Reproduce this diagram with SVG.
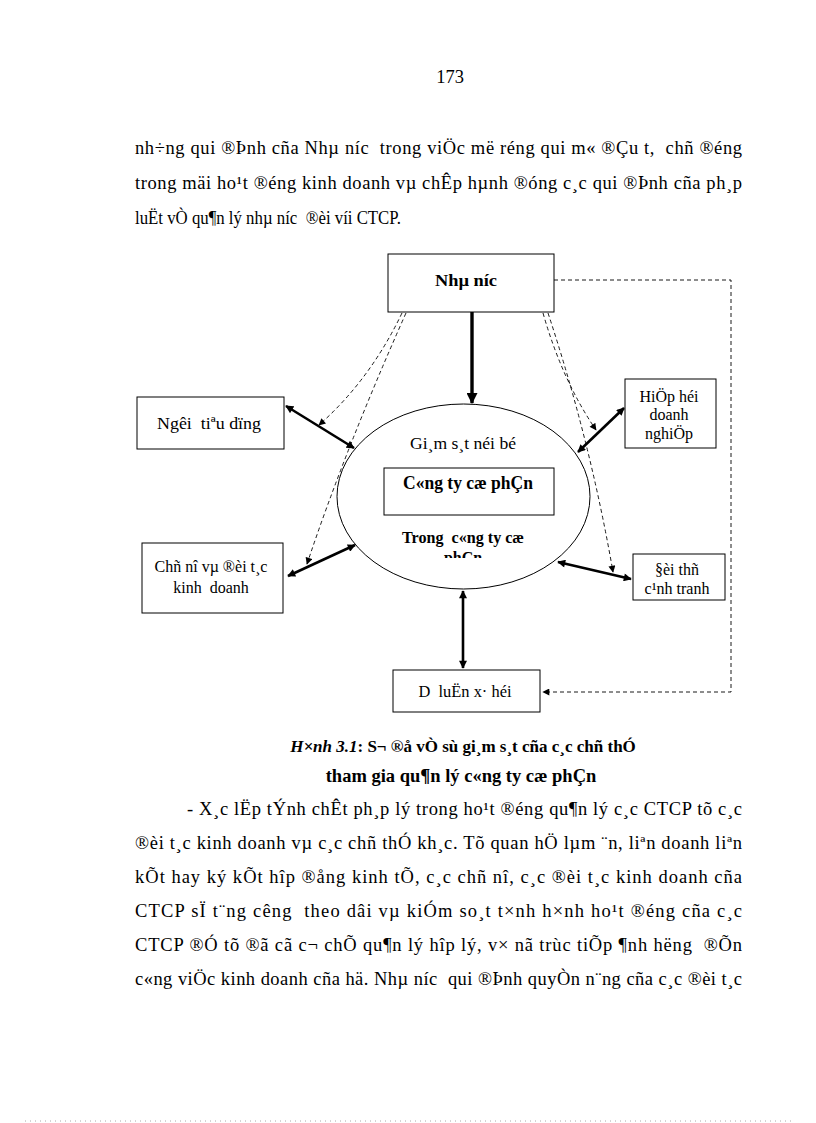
<svg xmlns="http://www.w3.org/2000/svg" width="816" height="1123" viewBox="0 0 816 1123">
<style>
text{font-family:"Liberation Serif","Times New Roman",serif;fill:#000;white-space:pre}
.body{font-size:18.5px}
.cap{font-size:17px;font-weight:bold;text-anchor:middle}
.cap2{font-size:18.5px;font-weight:bold;text-anchor:middle}
.lbl{font-size:17px;text-anchor:middle}
.sm{font-size:16px;text-anchor:middle}
.box{fill:#fff;stroke:#000;stroke-width:1}
.thick{stroke:#000;stroke-width:2.6;fill:none;marker-start:url(#ah);marker-end:url(#ah)}
.dash{stroke:#000;stroke-width:0.9;fill:none;stroke-dasharray:4 3;marker-end:url(#dh)}
</style>
<defs>
<marker id="ah" viewBox="0 0 10 10" refX="9" refY="5" markerWidth="9" markerHeight="8" markerUnits="userSpaceOnUse" orient="auto-start-reverse"><path d="M0,0 L10,5 L0,10 z" fill="#000"/></marker>
<marker id="dh" viewBox="0 0 10 10" refX="9" refY="5" markerWidth="8" markerHeight="7" markerUnits="userSpaceOnUse" orient="auto"><path d="M0,0 L10,5 L0,10 z" fill="#000"/></marker>
<marker id="bh" viewBox="0 0 10 10" refX="9" refY="5" markerWidth="12" markerHeight="11" markerUnits="userSpaceOnUse" orient="auto"><path d="M0,0 L10,5 L0,10 z" fill="#000"/></marker>
<clipPath id="clipTrong"><rect x="380" y="520" width="170" height="38"/></clipPath>
</defs>

<text x="450" y="83" class="body" text-anchor="middle">173</text>
<text x="135" y="154" class="body" textLength="607" lengthAdjust="spacing">nh÷ng qui ®Þnh cña Nhµ níc  trong viÖc më réng qui m« ®Çu t,  chñ ®éng</text>
<text x="135" y="189" class="body" textLength="607" lengthAdjust="spacing">trong mäi ho¹t ®éng kinh doanh vµ chÊp hµnh ®óng c¸c qui ®Þnh cña ph¸p</text>
<text x="135" y="224" class="body" textLength="266" lengthAdjust="spacingAndGlyphs">luËt vÒ qu¶n lý nhµ níc  ®èi víi CTCP.</text>

<g id="connectors">
<line x1="472" y1="312" x2="472" y2="403" stroke="#000" stroke-width="3.4" marker-end="url(#bh)"/>
<line class="thick" x1="286" y1="406" x2="354" y2="448"/>
<line class="thick" x1="288" y1="576" x2="355" y2="545"/>
<line class="thick" x1="578" y1="452" x2="624" y2="408"/>
<line class="thick" x1="558" y1="562" x2="631" y2="579"/>
<line class="thick" x1="463" y1="591" x2="463" y2="668"/>
<path class="dash" d="M402,313 Q370,380 319,425"/>
<path class="dash" d="M406,313 Q345,450 307,564"/>
<path class="dash" d="M543,313 Q562,380 596,430"/>
<path class="dash" d="M548,313 Q590,440 613,572"/>
<path class="dash" d="M554,280 L731,280 L731,692 L543,692"/>
</g>

<g id="ellipse">
<ellipse cx="463.5" cy="496.5" rx="126.5" ry="92.5" fill="#fff" stroke="#000" stroke-width="1"/>
<text x="463" y="449" class="lbl" textLength="106" lengthAdjust="spacingAndGlyphs">Gi¸m s¸t néi bé</text>
<text x="463" y="543" class="sm" font-weight="bold" textLength="122" lengthAdjust="spacingAndGlyphs">Trong  c«ng ty cæ</text>
<text x="463" y="563" class="sm" font-weight="bold" clip-path="url(#clipTrong)">phÇn</text>
</g>
<g id="n-congty">
<rect class="box" x="384" y="468" width="170" height="47"/>
<text x="468" y="489" class="lbl" style="font-size:18px" font-weight="bold" textLength="130" lengthAdjust="spacingAndGlyphs">C«ng ty cæ phÇn</text>
</g>
<g id="n-nhanuoc">
<rect class="box" x="388" y="254" width="166" height="58"/>
<text x="466" y="286" class="lbl" font-weight="bold" textLength="62" lengthAdjust="spacingAndGlyphs">Nhµ níc</text>
</g>
<g id="n-nguoitieudung">
<rect class="box" x="137" y="397" width="147" height="52"/>
<text x="209" y="429" class="lbl" textLength="104" lengthAdjust="spacingAndGlyphs">Ngêi  tiªu dïng</text>
</g>
<g id="n-hiephoi">
<rect class="box" x="625" y="379" width="91" height="69"/>
<text x="669" y="402" class="sm">HiÖp héi</text>
<text x="669" y="420" class="sm">doanh</text>
<text x="669" y="439" class="sm">nghiÖp</text>
</g>
<g id="n-chuno">
<rect class="box" x="142" y="543" width="141" height="70"/>
<text x="211" y="572" class="sm">Chñ nî vµ ®èi t¸c</text>
<text x="211" y="593" class="sm">kinh  doanh</text>
</g>
<g id="n-doithu">
<rect class="box" x="633" y="554" width="92" height="46"/>
<text x="677" y="575" class="sm">§èi thñ</text>
<text x="677" y="594" class="sm">c¹nh tranh</text>
</g>
<g id="n-dulun">
<rect class="box" x="393" y="670" width="147" height="42"/>
<text x="465" y="697" class="lbl" textLength="93" lengthAdjust="spacingAndGlyphs">D  luËn x· héi</text>
</g>

<text x="463" y="752" class="cap"><tspan font-style="italic">H×nh 3.1</tspan>: S¬ ®å vÒ sù gi¸m s¸t cña c¸c chñ thÓ</text>
<text x="461" y="782" class="cap2">tham gia qu¶n lý c«ng ty cæ phÇn</text>

<text x="187" y="815" class="body" textLength="555" lengthAdjust="spacing">- X¸c lËp tÝnh chÊt ph¸p lý trong ho¹t ®éng qu¶n lý c¸c CTCP tõ c¸c</text>
<text x="135" y="849" class="body" textLength="607" lengthAdjust="spacing">®èi t¸c kinh doanh vµ c¸c chñ thÓ kh¸c. Tõ quan hÖ lµm ¨n, liªn doanh liªn</text>
<text x="135" y="883" class="body" textLength="607" lengthAdjust="spacing">kÕt hay ký kÕt hîp ®ång kinh tÕ, c¸c chñ nî, c¸c ®èi t¸c kinh doanh cña</text>
<text x="135" y="917" class="body" textLength="607" lengthAdjust="spacing">CTCP sÏ t¨ng cêng  theo dâi vµ kiÓm so¸t t×nh h×nh ho¹t ®éng cña c¸c</text>
<text x="135" y="951" class="body" textLength="607" lengthAdjust="spacing">CTCP ®Ó tõ ®ã cã c¬ chÕ qu¶n lý hîp lý, v× nã trùc tiÕp ¶nh hëng  ®Õn</text>
<text x="135" y="985" class="body" textLength="607" lengthAdjust="spacing">c«ng viÖc kinh doanh cña hä. Nhµ níc  qui ®Þnh quyÒn n¨ng cña c¸c ®èi t¸c</text>

<line x1="25" y1="1121" x2="792" y2="1121" stroke="#aaa" stroke-width="1" stroke-dasharray="1 4"/>
</svg>
